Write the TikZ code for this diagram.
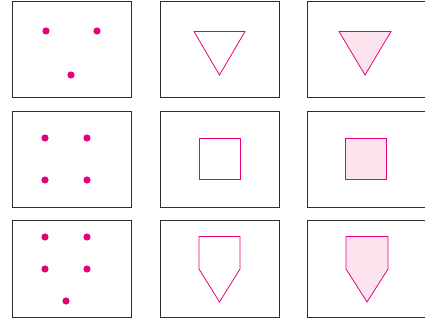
\documentclass[tikz,border=0pt]{standalone}
\definecolor{mag}{HTML}{E6007E}
\definecolor{lpink}{HTML}{FCE4EF}
\definecolor{frame}{HTML}{2E2E2E}
\tikzset{
  panel/.style={draw=frame, line width=0.9pt},
  dot/.style={fill=mag},
  outline/.style={draw=mag, line width=0.8pt, line join=miter},
  filled/.style={outline, fill=lpink}
}
\begin{document}
\begin{tikzpicture}[x=1pt,y=-1pt]
\useasboundingbox (0,0) rectangle (425,320);
% panels
\foreach \y/\h in {1/97,111/207,220/317}{
  \draw[panel] (12,\y) rectangle (131,\h);
  \draw[panel] (160,\y) rectangle (279,\h);
  \draw[panel] (307,\y) rectangle (430,\h);
}
% row 1
\foreach \p in {(46,31),(97,31),(71,75)} \fill[dot] \p circle (3.6);
\draw[outline] (194,31.5) -- (245,31.5) -- (219.5,75) -- cycle;
\draw[filled] (339,31.5) -- (391,31.5) -- (365,75) -- cycle;
% row 2
\foreach \p in {(45,138),(87,138),(45,180),(87,180)} \fill[dot] \p circle (3.6);
\draw[outline] (199,138) rectangle (240,179);
\draw[filled] (345,138) rectangle (386,179);
% row 3
\foreach \p in {(45,237),(87,237),(45,269),(87,269),(66,301)} \fill[dot] \p circle (3.6);
\draw[outline] (199,236.5) -- (240,236.5) -- (240,269) -- (219.5,302) -- (199,269) -- cycle;
\draw[filled] (346,236.5) -- (388,236.5) -- (388,269) -- (367,302) -- (346,269) -- cycle;
\end{tikzpicture}
\end{document}
